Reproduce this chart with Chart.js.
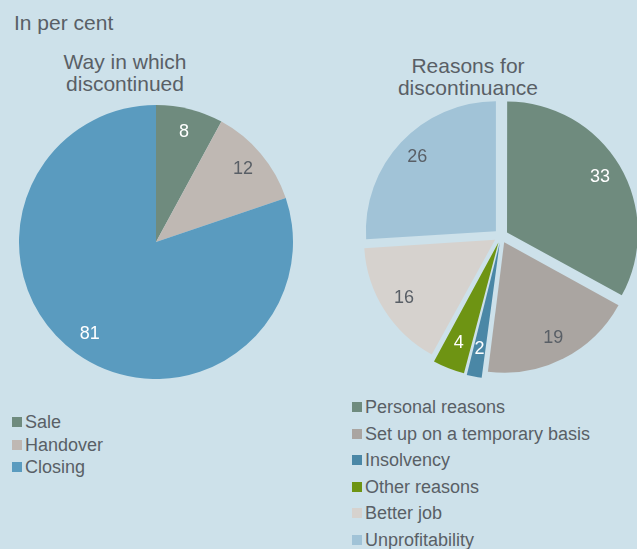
<!DOCTYPE html>
<html>
<head>
<meta charset="utf-8">
<script src="https://cdn.jsdelivr.net/npm/chart.js@4/dist/chart.umd.min.js"></script>
<style>
  html, body { margin: 0; padding: 0; overflow: hidden; }
  body { width: 637px; height: 549px; background: #cde1ea; position: relative;
         font-family: "Liberation Sans", Arial, sans-serif; color: #595f66; }
  .txt { position: absolute; white-space: nowrap; line-height: 1; }
  .ttl { position: absolute; font-size: 21px; text-align: center; line-height: 22px; transform: translateX(-50%); white-space: nowrap; }
  .box { position: absolute; }
  .legend { position: absolute; font-size: 18px; }
  .legend div { position: relative; height: 0; }
  .legend span.sw { position: absolute; width: 10px; height: 10px; top: -5px; left: 0; }
  .legend span.lb { position: absolute; left: 13px; top: -10px; line-height: 20px; white-space: nowrap; }
</style>
</head>
<body>
<div class="txt" style="left:14px;top:12px;font-size:21px;">In per cent</div>
<div class="ttl" style="left:125px;top:51px;">Way in which<br>discontinued</div>
<div class="ttl" style="left:468px;top:55px;">Reasons for<br>discontinuance</div>

<div class="box" style="left:19px;top:105px;width:274px;height:274px;"><canvas id="wayChart"></canvas></div>
<div class="box" style="left:357px;top:92px;width:288px;height:288px;"><canvas id="reasonChart"></canvas></div>

<div class="legend" id="wayLegend" style="left:12px;top:0;"></div>
<div class="legend" id="reasonLegend" style="left:352px;top:0;"></div>

<script>
/* --------------- Data --------------------- */
const wayLabels = ["Sale", "Handover", "Closing"];
const wayValues = [8, 12, 81];
const wayColors = ["#6f8b7e", "#bfb8b3", "#5a9bbf"];
const wayLabelColors = ["#ffffff", "#595f66", "#ffffff"];

const reasonLabels = ["Personal reasons", "Set up on a temporary basis", "Insolvency", "Other reasons", "Better job", "Unprofitability"];
const reasonValues = [33, 19, 2, 4, 16, 26];
const reasonColors = ["#6f8b7e", "#aaa5a1", "#4a87a6", "#6e9413", "#d6d2ce", "#a1c3d7"];
const reasonLabelColors = ["#ffffff", "#595f66", "#ffffff", "#ffffff", "#595f66", "#595f66"];

/* --------------- Value labels drawn on the slices --------------------- */
const sliceLabels = {
  id: "sliceLabels",
  afterDatasetsDraw(chart, args, opts) {
    const ctx = chart.ctx;
    const meta = chart.getDatasetMeta(0);
    const values = chart.data.datasets[0].data;
    ctx.save();
    ctx.font = "18px 'Liberation Sans', Arial, sans-serif";
    ctx.textAlign = "center";
    ctx.textBaseline = "middle";
    meta.data.forEach((arc, i) => {
      const p = arc.getProps(["x", "y", "startAngle", "endAngle", "outerRadius"], true);
      const mid = (p.startAngle + p.endAngle) / 2;
      const shift = (arc.options.offset || 0) / 4;
      const r = shift + p.outerRadius * opts.pos;
      ctx.fillStyle = opts.colors[i];
      ctx.fillText(String(values[i]), p.x + Math.cos(mid) * r, p.y + Math.sin(mid) * r);
    });
    ctx.restore();
  }
};

function makePie(id, labels, values, colors, labelColors, offset) {
  return new Chart(document.getElementById(id), {
    type: "pie",
    plugins: [sliceLabels],
    data: {
      labels: labels,
      datasets: [{
        data: values,
        backgroundColor: colors,
        borderWidth: 0,
        offset: offset,
        hoverOffset: 0,
      }],
    },
    options: {
      responsive: true,
      maintainAspectRatio: false,
      animation: false,
      events: [],
      layout: { padding: 0 },
      plugins: {
        legend: { display: false },
        tooltip: { enabled: false },
        sliceLabels: { colors: labelColors, pos: 0.83 },
      },
    },
  });
}

makePie("wayChart", wayLabels, wayValues, wayColors, wayLabelColors, 0);
makePie("reasonChart", reasonLabels, reasonValues, reasonColors, reasonLabelColors, 28);

/* --------------- Legends --------------------- */
function buildLegend(id, labels, colors, firstY, step) {
  const box = document.getElementById(id);
  labels.forEach((l, i) => {
    const row = document.createElement("div");
    row.style.position = "absolute";
    row.style.top = (firstY + i * step) + "px";
    row.innerHTML = '<span class="sw" style="background:' + colors[i] + '"></span><span class="lb">' + l + '</span>';
    box.appendChild(row);
  });
}
buildLegend("wayLegend", wayLabels, wayColors, 422, 22.5);
buildLegend("reasonLegend", reasonLabels, reasonColors, 407, 26.6);
</script>
</body>
</html>
